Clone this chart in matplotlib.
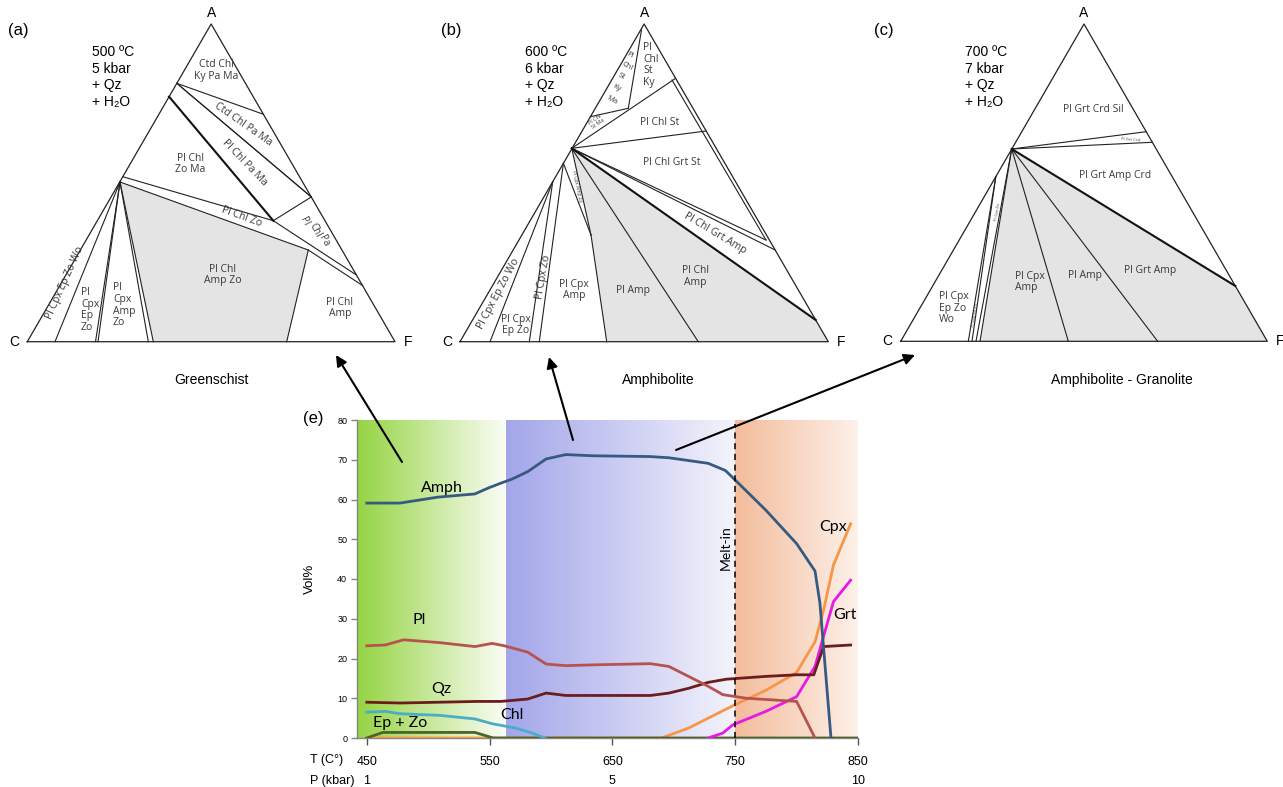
import numpy as np
import matplotlib
matplotlib.use("Agg")
import matplotlib.pyplot as plt
from matplotlib.patches import Polygon

# ---------------- data: chart (e) ----------------
amph_T = [450, 477, 508, 538, 549, 559, 568, 581, 596, 612, 634, 681, 696, 712, 728, 742, 748, 775, 800, 815, 819, 828]
amph_V = [59.1, 59.1, 60.6, 61.4, 62.9, 64.1, 65.1, 67.0, 70.2, 71.3, 71.0, 70.8, 70.5, 69.8, 69.1, 67.3, 65.5, 57.3, 48.9, 42.0, 33.9, 0]
pl_T = [450, 465, 480, 509, 538, 552, 562, 581, 596, 612, 634, 681, 696, 712, 728, 740, 759, 790, 800, 815]
pl_V = [23.2, 23.4, 24.7, 24.0, 23.0, 23.8, 23.2, 21.6, 18.6, 18.2, 18.4, 18.7, 18.0, 15.5, 13.0, 10.9, 10.0, 9.4, 9.2, 0]
qz_T = [450, 477, 540, 559, 581, 596, 612, 681, 696, 712, 728, 743, 775, 800, 814, 822, 844]
qz_V = [9.0, 8.8, 9.2, 9.2, 9.8, 11.3, 10.7, 10.7, 11.3, 12.5, 14.0, 14.8, 15.5, 15.9, 15.9, 23.0, 23.4]
chl_T = [450, 465, 477, 509, 538, 552, 571, 584, 595]
chl_V = [6.5, 6.7, 6.1, 5.7, 4.8, 3.6, 2.5, 1.3, 0]
epzo_T = [450, 463, 538, 553, 850]
epzo_V = [0, 1.4, 1.4, 0, 0]
cpx_T = [450, 690, 712, 748, 775, 800, 815, 822, 830, 844]
cpx_V = [0, 0, 2.5, 8.1, 12.0, 16.5, 24.2, 32.2, 43.5, 53.9]
grt_T = [728, 740, 748, 775, 800, 815, 830, 844]
grt_V = [0, 1.25, 3.3, 6.7, 10.4, 18.0, 34.3, 39.7]

T_ticks = [450, 550, 650, 750, 850]
P_ticks_T = [450, 650, 850]
P_labels = ["1", "5", "10"]
Y_ticks = [0, 10, 20, 30, 40, 50, 60, 70, 80]
melt_T = 750
zones = [(442, 563, "#95D443", "#FBFDF6"),
         (563, 750, "#A3A6EA", "#F4F4FB"),
         (750, 850, "#F3BC9B", "#FDF1EA")]

# ---------------- data: ternary diagrams (local coords: base 0..1, height 0..1) ----------------
tri_a = {"C": (27.3, 341.7), "F": (395.0, 341.7), "top": 24.0}
tri_b = {"C": (460.0, 341.7), "F": (828.3, 341.7), "top": 24.0}
tri_c = {"C": (900.7, 341.3), "F": (1267.3, 341.3), "top": 24.0}

P0 = (0.2521, 0.5027)
a_lines = [
    [(0.4067, 0.8133), (0.6421, 0.7158)],
    [(0.4067, 0.8133), (0.7723, 0.4555)],
    [(0.4120, 0.8080), (0.7723, 0.4555)],
    [(0.669, 0.3809), (0.7723, 0.4555)],
    [(0.2597, 0.5194), (0.669, 0.3809)],
    [(0.669, 0.3809), (0.8950, 0.2099)],
    [P0, (0.7642, 0.2886)],
    [(0.7642, 0.2886), (0.9116, 0.1769)],
    [(0.7642, 0.2886), (0.7055, 0.0)],
    [P0, (0.0753, 0.0)], [P0, (0.1855, 0.0)], [P0, (0.1923, 0.0)],
    [P0, (0.3291, 0.0)], [P0, (0.3427, 0.0)],
]
a_thick = [[(0.3856, 0.7712), (0.669, 0.3809)]]
a_gray = [P0, (0.7642, 0.2886), (0.7055, 0.0), (0.3427, 0.0)]
a_labels = [
    ("Ctd Chl\nKy Pa Ma", 0.5132, 0.8529, 0, "center", 7.5),
    ("Ctd Chl Pa Ma", 0.5858, 0.6852, -35, "center", 7.5),
    ("Pl Chl Pa Ma", 0.5921, 0.5625, -46, "center", 7.5),
    ("Pl Chl\nZo Ma", 0.4425, 0.5593, 0, "center", 7.5),
    ("Pl Chl Zo", 0.5831, 0.3916, -20, "center", 7.5),
    ("Pl", 0.7530, 0.3790, -62, "center", 7),
    ("Chl", 0.7824, 0.3516, -62, "center", 7),
    ("Pa", 0.8070, 0.3170, -62, "center", 7),
    ("Pl Chl\nAmp Zo", 0.5322, 0.2099, 0, "center", 7.5),
    ("Pl Chl\nAmp", 0.8504, 0.1061, 0, "center", 7.5),
    ("Pl\nCpx\nAmp\nZo", 0.2333, 0.1152, 0, "left", 7.5),
    ("Pl\nCpx\nEp\nZo", 0.1460, 0.0998, 0, "left", 7.5),
    ("Pl Cpx Ep Zo Wo", 0.1025, 0.1847, 66, "center", 7.5),
]

P1 = (0.3033, 0.6087)
Q1 = (0.4570, 0.7347)
KB = (0.3557, 0.3359)
b_lines = [
    [P1, (0.5855, 0.8291)],
    [(0.3541, 0.7082), Q1],
    [Q1, (0.4928, 0.9811)],
    [P1, (0.6684, 0.6632)],
    [(0.5756, 0.8237), (0.8308, 0.3201)],
    [P1, (0.8308, 0.3201)],
    [P1, (0.8557, 0.2886)],
    [P1, KB], [KB, (0.3983, 0.0)],
    [(0.2808, 0.5615), KB],
    [P1, (0.6470, 0.0)],
    [(0.2808, 0.5615), (0.2153, 0.0)],
    [(0.2518, 0.5036), (0.1882, 0.0)],
    [(0.2518, 0.5036), (0.0815, 0.0)],
]
b_thick = [[P1, (0.9658, 0.0683)]]
b_gray = [P1, (0.9658, 0.0683), (1.0, 0.0), (0.3983, 0.0), KB]
b_labels = [
    ("Pl\nChl\nSt\nKy", 0.4977, 0.8709, 0, "left", 7.5),
    ("Pl", 0.4616, 0.9024, -28, "center", 5.5),
    ("Chl", 0.4526, 0.8656, -28, "center", 5.5),
    ("St", 0.4390, 0.8341, -28, "center", 5.5),
    ("Ky", 0.4255, 0.7976, -28, "center", 5.5),
    ("Ma", 0.4135, 0.7608, -28, "center", 5.5),
    ("Pl Chl\nSt Ma", 0.3712, 0.6925, 35, "center", 4),
    ("Pl Chl St", 0.5430, 0.6906, 0, "center", 7.5),
    ("Pl Chl Grt St", 0.5748, 0.5634, 0, "center", 7.5),
    ("Pl Chl Grt Amp", 0.6924, 0.3412, -31, "center", 7.5),
    ("Pl Chl\nAmp", 0.6381, 0.2046, 0, "center", 7.5),
    ("Pl Amp", 0.4705, 0.1627, 0, "center", 7.5),
    ("Pl Cpx\nAmp", 0.3095, 0.1627, 0, "center", 7.5),
    ("Pl Cpx Zo", 0.2262, 0.2046, 80, "center", 7.5),
    ("Pl Cpx\nEp Zo", 0.1520, 0.0526, 0, "center", 7.5),
    ("Pl Cpx Ep Zo Wo", 0.1040, 0.1523, 62, "center", 7.5),
    ("Pl Cpx Amp Zo", 0.3169, 0.4879, -78, "center", 3.5),
]

P2 = (0.3028, 0.6061)
c_lines = [
    [P2, (0.6697, 0.6606)],
    [P2, (0.6864, 0.6272)],
    [P2, (0.7010, 0.0)],
    [P2, (0.4572, 0.0)],
    [P2, (0.2163, 0.0)],
    [P2, (0.2054, 0.0)],
    [(0.2594, 0.5188), (0.1945, 0.0)],
    [(0.2594, 0.5188), (0.1844, 0.0)],
]
c_thick = [[P2, (0.9129, 0.1743)]]
c_gray = [P2, (0.9129, 0.1743), (1.0, 0.0), (0.2163, 0.0)]
c_labels = [
    ("Pl Grt Crd Sil", 0.5254, 0.7290, 0, "center", 7.5),
    ("Pl Grt Crd", 0.6274, 0.6344, -4, "center", 3),
    ("Pl Grt Amp Crd", 0.5846, 0.5210, 0, "center", 7.5),
    ("Pl Grt Amp", 0.6800, 0.2247, 0, "center", 7.5),
    ("Pl Amp", 0.5027, 0.2089, 0, "center", 7.5),
    ("Pl Cpx\nAmp", 0.3119, 0.1869, 0, "left", 7.5),
    ("Pl Cpx\nEp Zo\nWo", 0.1045, 0.1049, 0, "left", 7.5),
    ("Pl Cpx Zo", 0.2646, 0.4085, 80, "center", 3),
    ("Pl Cpx Ep Zo", 0.2027, 0.0835, 80, "center", 3),
]

conditions = ["500 ºC\n5 kbar\n+ Qz\n+ H₂O", "600 ºC\n6 kbar\n+ Qz\n+ H₂O", "700 ºC\n7 kbar\n+ Qz\n+ H₂O"]
panel_tags = ["(a)", "(b)", "(c)"]
facies = ["Greenschist", "Amphibolite", "Amphibolite - Granolite"]

# ---------------- figure ----------------
W, H = 1283, 787
fig = plt.figure(figsize=(W / 100, H / 100), dpi=100)
fig.patch.set_facecolor("white")

ARIAL = ["Liberation Sans", "DejaVu Sans"]
SMALL = ["Open Sans", "DejaVu Sans"]
CAL = ["Lato", "DejaVu Sans"]

# chart axes
ax = fig.add_axes([357 / W, 1 - 738 / H, 501 / W, 318 / H], zorder=1)
for t0, t1, c0, c1 in zones:
    c0 = np.array(matplotlib.colors.to_rgb(c0))
    c1 = np.array(matplotlib.colors.to_rgb(c1))
    f = np.linspace(0, 1, 256)[:, None]
    img = (c0 + (c1 - c0) * f)[None, :, :]
    ax.imshow(img, extent=[t0, t1, 0, 80], aspect="auto", zorder=0, interpolation="bilinear")
ax.set_xlim(442, 850)
ax.set_ylim(0, 80)

lw = 2.0
ax.plot(cpx_T, cpx_V, color="#F79646", lw=lw, zorder=3)
ax.plot(epzo_T, epzo_V, color="#4F6228", lw=lw, zorder=3)
ax.plot(grt_T, grt_V, color="#E619E6", lw=lw, zorder=3)
ax.plot(chl_T, chl_V, color="#4BACC6", lw=lw, zorder=3)
ax.plot(qz_T, qz_V, color="#6B1D1D", lw=lw, zorder=3)
ax.plot(pl_T, pl_V, color="#B8524F", lw=lw, zorder=3)
ax.plot(amph_T, amph_V, color="#375A80", lw=lw, zorder=4)
ax.plot([melt_T, melt_T], [0, 79], color="black", lw=1.1, ls=(0, (4, 3)), zorder=5)

for txt, x, y in [("Amph", 511, 63.0), ("Pl", 493, 29.7), ("Qz", 511, 12.3), ("Chl", 568, 5.9),
                  ("Ep + Zo", 477, 3.8), ("Cpx", 830, 53.2), ("Grt", 839, 30.9)]:
    ax.text(x, y, txt, fontsize=11.5, family=CAL, ha="center", va="center", zorder=6)
ax.text(742, 48, "Melt-in", rotation=90, fontsize=10, family=CAL, ha="center", va="center", zorder=6)

for s in ["top", "right"]:
    ax.spines[s].set_visible(False)
for s in ["left", "bottom"]:
    ax.spines[s].set_color("#868686")
    ax.spines[s].set_linewidth(1.0)
ax.set_xticks(T_ticks)
ax.set_xticklabels([str(t) for t in T_ticks], fontsize=9, family=ARIAL)
ax.set_yticks(Y_ticks)
ax.set_yticklabels([str(v) for v in Y_ticks], fontsize=6.5, family=ARIAL)
ax.tick_params(axis="x", length=5, width=1, color="#555555", pad=8)
ax.tick_params(axis="y", length=4, width=1, color="#868686", pad=3)
ax.set_ylabel("Vol%", fontsize=9.5, family=ARIAL)
ax.yaxis.set_label_coords(-(357 - 316) / 501, 0.5)
for t, lab in zip(P_ticks_T, P_labels):
    ax.text(t, -(781 - 738) / 318, lab, transform=ax.get_xaxis_transform(), fontsize=9,
            family=ARIAL, ha="center", va="center", clip_on=False)

# overlay axes in pixel coords
ov = fig.add_axes([0, 0, 1, 1], zorder=5)
ov.set_xlim(0, W)
ov.set_ylim(H, 0)
ov.axis("off")
ov.patch.set_alpha(0)


def px(tri, p):
    cx, cy = tri["C"]
    fx = tri["F"][0]
    return cx + p[0] * (fx - cx), cy - p[1] * (cy - tri["top"])


for tri, lines, thick, gray, labels in [(tri_a, a_lines, a_thick, a_gray, a_labels),
                                         (tri_b, b_lines, b_thick, b_gray, b_labels),
                                         (tri_c, c_lines, c_thick, c_gray, c_labels)]:
    ov.add_patch(Polygon([px(tri, p) for p in gray], closed=True, facecolor="#E4E4E4",
                         edgecolor="none", zorder=1))
    outline = [px(tri, p) for p in [(0, 0), (1, 0), (0.5, 1), (0, 0)]]
    ov.plot([q[0] for q in outline], [q[1] for q in outline], color="#222222", lw=0.9, zorder=3)
    for seg in lines:
        q = [px(tri, p) for p in seg]
        ov.plot([q[0][0], q[1][0]], [q[0][1], q[1][1]], color="#222222", lw=0.8, zorder=3)
    for seg in thick:
        q = [px(tri, p) for p in seg]
        ov.plot([q[0][0], q[1][0]], [q[0][1], q[1][1]], color="#111111", lw=1.5, zorder=3)
    for txt, x, y, rot, ha, fs in labels:
        X, Y = px(tri, (x, y))
        ov.text(X, Y, txt, rotation=rot, ha=ha, va="center", fontsize=fs, family=SMALL,
                color="#3a3a3a", linespacing=1.1, rotation_mode="anchor", zorder=4)
    A = px(tri, (0.5, 1))
    C = px(tri, (0, 0))
    F = px(tri, (1, 0))
    ov.text(A[0], A[1] - 11, "A", fontsize=10, family=ARIAL, ha="center", va="center")
    ov.text(C[0] - 13, C[1], "C", fontsize=10, family=ARIAL, ha="center", va="center")
    ov.text(F[0] + 13, F[1], "F", fontsize=10, family=ARIAL, ha="center", va="center", clip_on=False)

for tri, cond, tag, fac, cx, tx, fx in [(tri_a, conditions[0], panel_tags[0], facies[0], 92, 8, 211),
                                         (tri_b, conditions[1], panel_tags[1], facies[1], 525, 441, 658),
                                         (tri_c, conditions[2], panel_tags[2], facies[2], 965, 874, 1122)]:
    ov.text(cx, 45, cond, fontsize=10, family=ARIAL, ha="left", va="top", linespacing=1.25)
    ov.text(tx, 31, tag, fontsize=12, family=ARIAL, ha="left", va="center")
    ov.text(fx, 380, fac, fontsize=10, family=ARIAL, ha="center", va="center")

ov.text(313, 418, "(e)", fontsize=12, family=ARIAL, ha="center", va="center")
ov.text(327, 760, "T (C°)", fontsize=9, family=ARIAL, ha="center", va="center")
ov.text(332, 781, "P (kbar)", fontsize=9, family=ARIAL, ha="center", va="center")

for (x0, y0), (x1, y1) in [((402, 462), (336, 355)), ((573, 440), (549, 357)), ((676, 450), (915, 355))]:
    ov.annotate("", xy=(x1, y1), xytext=(x0, y0),
                arrowprops=dict(arrowstyle="-|>", color="black", lw=1.5, mutation_scale=16,
                                shrinkA=0, shrinkB=0))

fig.savefig("out.png", dpi=100)
